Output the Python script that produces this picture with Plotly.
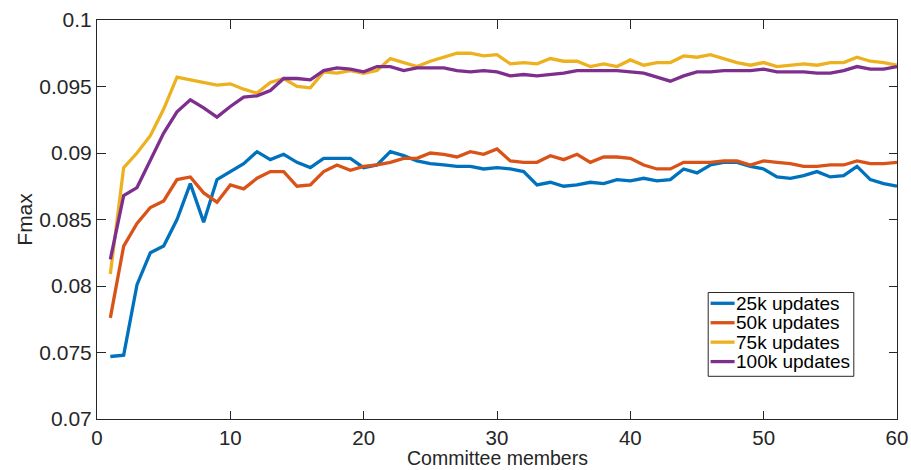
import plotly.graph_objects as go

members = list(range(1, 61))

f25k = [0.0747, 0.0748, 0.0801, 0.0825, 0.0830, 0.0850, 0.0877, 0.0848, 0.0880, 0.0886,
        0.0892, 0.0901, 0.0895, 0.0899, 0.0893, 0.0889, 0.0896, 0.0896, 0.0896, 0.0889,
        0.0891, 0.0901, 0.0898, 0.0894, 0.0892, 0.0891, 0.0890, 0.0890, 0.0888, 0.0889,
        0.0888, 0.0886, 0.0876, 0.0878, 0.0875, 0.0876, 0.0878, 0.0877, 0.0880, 0.0879,
        0.0881, 0.0879, 0.0880, 0.0888, 0.0885, 0.0891, 0.0893, 0.0893, 0.0890, 0.0888,
        0.0882, 0.0881, 0.0883, 0.0886, 0.0882, 0.0883, 0.0890, 0.0880, 0.0877, 0.0875]

f50k = [0.0776, 0.0830, 0.0847, 0.0859, 0.0864, 0.0880, 0.0882, 0.0870, 0.0863, 0.0876,
        0.0873, 0.0881, 0.0886, 0.0886, 0.0875, 0.0876, 0.0886, 0.0891, 0.0887, 0.0890,
        0.0891, 0.0893, 0.0896, 0.0896, 0.0900, 0.0899, 0.0897, 0.0901, 0.0899, 0.0903,
        0.0894, 0.0893, 0.0893, 0.0898, 0.0895, 0.0899, 0.0893, 0.0897, 0.0897, 0.0896,
        0.0891, 0.0888, 0.0888, 0.0893, 0.0893, 0.0893, 0.0894, 0.0894, 0.0891, 0.0894,
        0.0893, 0.0892, 0.0890, 0.0890, 0.0891, 0.0891, 0.0894, 0.0892, 0.0892, 0.0893]

f75k = [0.0809, 0.0889, 0.0900, 0.0913, 0.0933, 0.0957, 0.0955, 0.0953, 0.0951, 0.0952,
        0.0948, 0.0945, 0.0953, 0.0956, 0.0950, 0.0949, 0.0961, 0.0960, 0.0962, 0.0960,
        0.0962, 0.0971, 0.0968, 0.0965, 0.0969, 0.0972, 0.0975, 0.0975, 0.0973, 0.0974,
        0.0967, 0.0968, 0.0967, 0.0971, 0.0969, 0.0969, 0.0965, 0.0967, 0.0965, 0.0970,
        0.0966, 0.0968, 0.0968, 0.0973, 0.0972, 0.0974, 0.0971, 0.0968, 0.0966, 0.0968,
        0.0965, 0.0966, 0.0967, 0.0966, 0.0968, 0.0968, 0.0972, 0.0969, 0.0968, 0.0966]

f100k = [0.0820, 0.0868, 0.0874, 0.0895, 0.0915, 0.0931, 0.0940, 0.0934, 0.0927, 0.0935,
         0.0942, 0.0943, 0.0947, 0.0956, 0.0956, 0.0955, 0.0962, 0.0964, 0.0963, 0.0961,
         0.0965, 0.0965, 0.0962, 0.0964, 0.0964, 0.0964, 0.0962, 0.0961, 0.0962, 0.0961,
         0.0958, 0.0959, 0.0958, 0.0959, 0.0960, 0.0962, 0.0962, 0.0962, 0.0962, 0.0961,
         0.0960, 0.0957, 0.0954, 0.0958, 0.0961, 0.0961, 0.0962, 0.0962, 0.0962, 0.0963,
         0.0961, 0.0961, 0.0961, 0.0960, 0.0960, 0.0962, 0.0965, 0.0963, 0.0963, 0.0965]

series_names = ["25k updates", "50k updates", "75k updates", "100k updates"]
series_values = [f25k, f50k, f75k, f100k]
series_colors = ["#0072BD", "#D95319", "#EDB120", "#7E2F8E"]

x_ticks = [0, 10, 20, 30, 40, 50, 60]
y_ticks = [0.07, 0.075, 0.08, 0.085, 0.09, 0.095, 0.1]
y_tick_labels = ["0.07", "0.075", "0.08", "0.085", "0.09", "0.095", "0.1"]

x_title = "Committee members"
y_title = "Fmax"

LINE_W = 3.3
axis_color = "#262626"
font_family = "Liberation Sans, Arial, Helvetica, sans-serif"

MARGIN = dict(l=97, r=14, t=20, b=51)
PLOT_H = 470 - MARGIN["t"] - MARGIN["b"]

fig = go.Figure()
for name, vals, col in zip(series_names, series_values, series_colors):
    fig.add_trace(go.Scatter(x=members, y=vals, mode="lines", name=name,
                             showlegend=False,
                             line=dict(color=col, width=LINE_W)))

# Compact boxed legend in the lower right of the axes (paper coordinates)
leg_x0, leg_x1 = 0.764, 0.946
leg_y_top, leg_y_bot = 0.317, 0.107
row_top, row_step = 0.290, 0.0487
sample_x0, sample_x1 = 0.767, 0.797
text_x = 0.797

shapes = [dict(type="rect", xref="paper", yref="paper",
               x0=leg_x0, x1=leg_x1, y0=leg_y_bot, y1=leg_y_top,
               line=dict(color=axis_color, width=1), fillcolor="white", layer="above")]
annotations = []
for i, (name, col) in enumerate(zip(series_names, series_colors)):
    yc = row_top - i * row_step
    shapes.append(dict(type="line", xref="paper", yref="paper",
                       x0=sample_x0, x1=sample_x1, y0=yc, y1=yc,
                       line=dict(color=col, width=LINE_W), layer="above"))
    annotations.append(dict(xref="paper", yref="paper", x=text_x, y=yc,
                            xanchor="left", yanchor="middle", showarrow=False,
                            text=name, font=dict(size=19, color="black"),
                            borderpad=0))

# Axis titles placed just outside the tick labels
annotations.append(dict(xref="paper", yref="paper", x=0.5,
                        y=-MARGIN["b"] / PLOT_H,
                        xanchor="center", yanchor="bottom", showarrow=False,
                        text=x_title, font=dict(size=19.5, color=axis_color),
                        borderpad=0))
annotations.append(dict(xref="paper", yref="paper", x=-0.091, y=0.5,
                        xanchor="center", yanchor="middle", showarrow=False,
                        textangle=-90, text=y_title,
                        font=dict(size=21, color=axis_color), borderpad=0))

fig.update_layout(
    width=911, height=470,
    margin=dict(**MARGIN, autoexpand=False),
    paper_bgcolor="white", plot_bgcolor="white",
    font=dict(family=font_family, size=21, color=axis_color),
    showlegend=False,
    shapes=shapes,
    annotations=annotations,
)

fig.update_xaxes(
    range=[0, 60], tickvals=x_ticks, ticks="inside", ticklen=8.5, tickcolor=axis_color,
    tickfont=dict(size=20.5),
    showline=True, linecolor=axis_color, linewidth=1, mirror="ticks",
    showgrid=False, zeroline=False, automargin=False,
)
fig.update_yaxes(
    range=[0.07, 0.1], tickvals=y_ticks, ticktext=y_tick_labels,
    ticks="inside", ticklen=8.5, tickcolor=axis_color,
    showline=True, linecolor=axis_color, linewidth=1, mirror="ticks",
    showgrid=False, zeroline=False, automargin=False,
)

fig.write_html("out.html")
